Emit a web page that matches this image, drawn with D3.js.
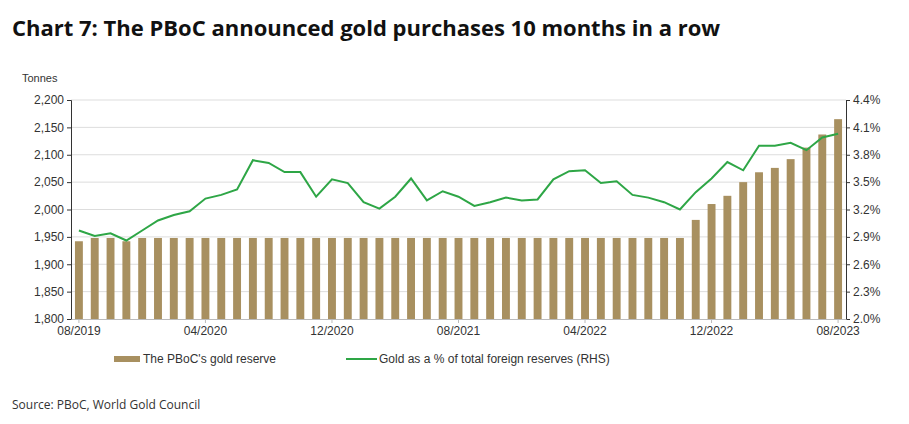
<!DOCTYPE html>
<html><head><meta charset="utf-8">
<script src="https://cdn.jsdelivr.net/npm/d3@7"></script>
<style>body{margin:0;background:#fff}</style>
</head><body><svg></svg>
<script>
// monthly data, 08/2019 .. 08/2023
const months = d3.range(49).map(i => {
    const m = (7 + i) % 12 + 1, y = 2019 + Math.floor((7 + i) / 12);
    return (m < 10 ? '0' : '') + m + '/' + y;
});
const reserve = [1942,1948,1948,1942,1948,1948,1948,1948,1948,1948,1948,1948,1948,1948,1948,1948,
    1948,1948,1948,1948,1948,1948,1948,1948,1948,1948,1948,1948,1948,1948,1948,1948,
    1948,1948,1948,1948,1948,1948,1948,1981,2010,2025,2050,2068,2076,2092,2113,2137,2165];
const goldPct = [2.97,2.91,2.94,2.86,2.97,3.08,3.14,3.18,3.32,3.36,3.42,3.74,3.71,3.61,3.61,3.34,
    3.53,3.49,3.28,3.21,3.34,3.54,3.30,3.40,3.34,3.24,3.28,3.33,3.30,3.31,3.53,3.62,
    3.63,3.49,3.51,3.36,3.33,3.28,3.20,3.39,3.54,3.72,3.63,3.90,3.90,3.93,3.85,3.99,4.03];
const tickMonths = ['08/2019','04/2020','12/2020','08/2021','04/2022','12/2022','08/2023'];
const leftTicks = d3.range(1800, 2201, 50);
const rightTicks = [2.0,2.3,2.6,2.9,3.2,3.5,3.8,4.1,4.4];

const svg = d3.select('svg').attr('width', 909).attr('height', 424);
const font = '"Liberation Sans", Arial, sans-serif';
const pl = 71, pr = 846, pt = 100, pb = 319;

svg.append('text').attr('x', 12).attr('y', 36)
    .style('font-family', '"Open Sans", sans-serif').style('font-weight', 700).style('font-size', '22px')
    .attr('fill', '#111').text('Chart 7: The PBoC announced gold purchases 10 months in a row');

const x = d3.scaleBand().domain(months).range([pl, pr]).paddingInner(0.5).paddingOuter(0.25);
const yL = d3.scaleLinear().domain([1800, 2200]).range([pb, pt]);
const yR = d3.scaleLinear().domain([2.0, 4.4]).range([pb, pt]);

// gridlines
svg.append('g').selectAll('line').data(leftTicks.slice(1)).join('line')
    .attr('x1', pl).attr('x2', pr).attr('y1', d => yL(d)).attr('y2', d => yL(d))
    .attr('stroke', '#ddd');

svg.append('g').selectAll('rect').data(reserve).join('rect')
    .attr('x', (d, i) => x(months[i])).attr('width', x.bandwidth())
    .attr('y', d => yL(d)).attr('height', d => pb - yL(d))
    .attr('fill', '#a89060');

svg.append('path').datum(goldPct)
    .attr('d', d3.line().x((d, i) => x(months[i]) + x.bandwidth() / 2).y(d => yR(d)))
    .attr('fill', 'none').attr('stroke', '#2ea646').attr('stroke-width', 2);

const axL = svg.append('g').attr('transform', `translate(${pl},0)`)
    .call(d3.axisLeft(yL).tickValues(leftTicks).tickSize(4).tickFormat(d3.format(',')));
const axR = svg.append('g').attr('transform', `translate(${pr},0)`)
    .call(d3.axisRight(yR).tickValues(rightTicks).tickSize(4).tickFormat(d => d.toFixed(1) + '%'));
const axB = svg.append('g').attr('transform', `translate(0,${pb})`)
    .call(d3.axisBottom(x).tickValues(tickMonths).tickSize(4).tickSizeOuter(0));
axB.select('.domain').attr('stroke', '#bbb');
axB.selectAll('.tick line').attr('stroke', '#bbb');
[axL, axR, axB].forEach(a => a.selectAll('text').style('font-family', font).style('font-size', '12px').attr('fill', '#333'));
[axL, axR].forEach(a => a.selectAll('.domain, .tick line').attr('stroke', '#333'));

svg.append('text').attr('x', 22).attr('y', 82).style('font-family', font).style('font-size', '11px')
    .attr('fill', '#333').text('Tonnes');

// legend
const lg = svg.append('g').style('font-family', font).style('font-size', '12px').attr('fill', '#333');
lg.append('rect').attr('x', 114).attr('y', 356).attr('width', 26).attr('height', 6).attr('fill', '#a89060');
lg.append('text').attr('x', 143).attr('y', 363).text("The PBoC's gold reserve");
lg.append('line').attr('x1', 346).attr('x2', 377).attr('y1', 359).attr('y2', 359).attr('stroke', '#2ea646').attr('stroke-width', 2);
lg.append('text').attr('x', 379).attr('y', 363).text('Gold as a % of total foreign reserves (RHS)');

svg.append('text').attr('x', 12).attr('y', 409)
    .style('font-family', '"Open Sans", sans-serif').style('font-size', '12px').attr('fill', '#333')
    .text('Source: PBoC, World Gold Council');
</script></body></html>
